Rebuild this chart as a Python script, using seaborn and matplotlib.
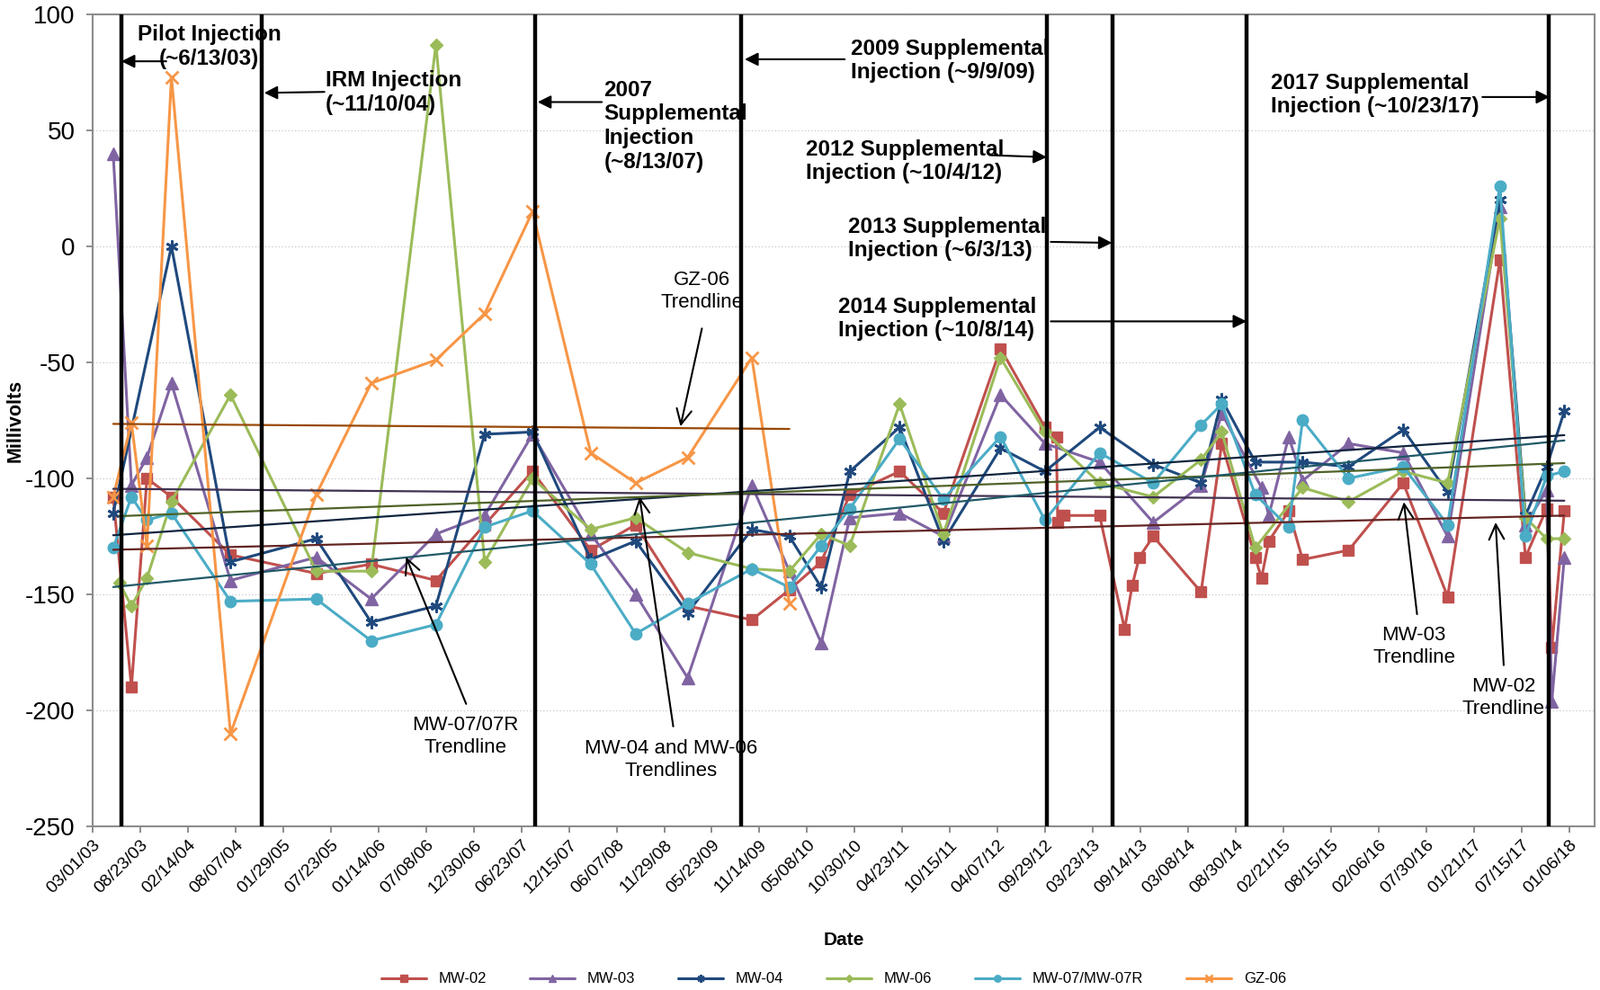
import numpy as np
import pandas as pd
import seaborn as sns
import matplotlib.pyplot as plt
import matplotlib.dates as mdates

# ---- data (millivolts) ----
mw02_dates = ["2003-05-15", "2003-07-21", "2003-09-16", "2003-12-15", "2004-07-19", "2005-05-30",
              "2005-12-18", "2006-08-13", "2007-02-08", "2007-08-03", "2008-03-04", "2008-08-16",
              "2009-02-23", "2009-10-17", "2010-03-04", "2010-06-29", "2010-10-12", "2011-04-13",
              "2011-09-21", "2012-04-18", "2012-09-28", "2012-11-09", "2012-11-14", "2012-12-07",
              "2013-04-17", "2013-07-18", "2013-08-15", "2013-09-10", "2013-10-31", "2014-04-25",
              "2014-07-10", "2014-11-10", "2014-12-03", "2014-12-30", "2015-03-13", "2015-05-03",
              "2015-10-19", "2016-05-07", "2016-10-17", "2017-04-27", "2017-07-30", "2017-10-16",
              "2017-11-04", "2017-12-20"]
mw02_mv = [-108, -190, -100, -108, -133, -141, -137, -144, -120, -97, -131, -120, -155, -161, -148,
           -136, -107, -97, -115, -44, -78, -82, -119, -116, -116, -165, -146, -134, -125, -149,
           -85, -134, -143, -127, -114, -135, -131, -102, -151, -6, -134, -113, -173, -114]

mw03_dates = ["2003-05-15", "2003-07-21", "2003-09-16", "2003-12-15", "2004-07-19", "2005-05-30",
              "2005-12-18", "2006-08-13", "2007-02-08", "2007-08-03", "2008-03-04", "2008-08-16",
              "2009-02-23", "2009-10-17", "2010-03-04", "2010-06-29", "2010-10-12", "2011-04-13",
              "2011-09-21", "2012-04-18", "2012-09-28", "2013-04-17", "2013-10-31", "2014-04-25",
              "2014-07-10", "2014-12-03", "2014-12-30", "2015-03-13", "2015-05-03", "2015-10-19",
              "2016-05-07", "2016-10-17", "2017-04-27", "2017-07-30", "2017-10-16", "2017-11-04",
              "2017-12-20"]
mw03_mv = [40, -103, -91, -59, -144, -134, -152, -124, -116, -81, -124, -150, -186, -103, -140,
           -171, -117, -115, -125, -64, -85, -93, -119, -103, -72, -104, -116, -82, -101, -85,
           -89, -125, 17, -120, -105, -196, -134]

mw04_dates = ["2003-05-15", "2003-12-15", "2004-07-19", "2005-05-30", "2005-12-18", "2006-08-13",
              "2007-02-08", "2007-08-03", "2008-03-04", "2008-08-16", "2009-02-23", "2009-10-17",
              "2010-03-04", "2010-06-29", "2010-10-12", "2011-04-13", "2011-09-21", "2012-04-18",
              "2012-09-28", "2013-04-17", "2013-10-31", "2014-04-25", "2014-07-10", "2014-11-10",
              "2015-05-03", "2015-10-19", "2016-05-07", "2016-10-17", "2017-04-27", "2017-07-30",
              "2017-10-16", "2017-12-20"]
mw04_mv = [-115, 0, -136, -126, -162, -155, -81, -80, -135, -127, -158, -122, -125, -147, -97,
           -78, -127, -87, -97, -78, -94, -102, -66, -93, -93, -95, -79, -106, 20, -116, -95, -71]

mw06_dates = ["2003-06-06", "2003-07-21", "2003-09-16", "2003-12-15", "2004-07-19", "2005-05-30",
              "2005-12-18", "2006-08-13", "2007-02-08", "2007-08-03", "2008-03-04", "2008-08-16",
              "2009-02-23", "2009-10-17", "2010-03-04", "2010-06-29", "2010-10-12", "2011-04-13",
              "2011-09-21", "2012-04-18", "2012-09-28", "2013-04-17", "2013-10-31", "2014-04-25",
              "2014-07-10", "2014-11-10", "2015-05-03", "2015-10-19", "2016-05-07", "2016-10-17",
              "2017-04-27", "2017-07-30", "2017-10-16", "2017-12-20"]
mw06_mv = [-145, -155, -143, -110, -64, -140, -140, 87, -136, -100, -122, -117, -132, -139, -140,
           -124, -129, -68, -124, -48, -80, -102, -108, -92, -80, -130, -104, -110, -97, -102,
           12, -117, -126, -126]

mw07_dates = ["2003-05-15", "2003-07-21", "2003-09-16", "2003-12-15", "2004-07-19", "2005-05-30",
              "2005-12-18", "2006-08-13", "2007-02-08", "2007-08-03", "2008-03-04", "2008-08-16",
              "2009-02-23", "2009-10-17", "2010-03-04", "2010-06-29", "2010-10-12", "2011-04-13",
              "2011-09-21", "2012-04-18", "2012-09-28", "2013-04-17", "2013-10-31", "2014-04-25",
              "2014-07-10", "2014-11-10", "2015-03-13", "2015-05-03", "2015-10-19", "2016-05-07",
              "2016-10-17", "2017-04-27", "2017-07-30", "2017-10-16", "2017-12-20"]
mw07_mv = [-130, -108, -118, -115, -153, -152, -170, -163, -121, -114, -137, -167, -154, -139,
           -147, -129, -113, -83, -109, -82, -118, -89, -102, -77, -68, -107, -121, -75, -100,
           -95, -120, 26, -125, -99, -97]

gz06_dates = ["2003-05-15", "2003-07-21", "2003-09-16", "2003-12-15", "2004-07-19", "2005-05-30",
              "2005-12-18", "2006-08-13", "2007-02-08", "2007-08-03", "2008-03-04", "2008-08-16",
              "2009-02-23", "2009-10-17", "2010-03-04"]
gz06_mv = [-108, -76, -129, 73, -210, -107, -59, -49, -29, 15, -89, -102, -91, -48, -154]

injection_dates = ["2003-06-13", "2004-11-10", "2007-08-13", "2009-09-09", "2012-10-04",
                   "2013-06-03", "2014-10-08", "2017-10-23"]

series = [
    ("MW-02", mw02_dates, mw02_mv, "#C0504D", "s", "#632523"),
    ("MW-03", mw03_dates, mw03_mv, "#8064A2", "^", "#3F3151"),
    ("MW-04", mw04_dates, mw04_mv, "#1F497D", (6, 2, 0), "#10253F"),
    ("MW-06", mw06_dates, mw06_mv, "#9BBB59", "D", "#4F6228"),
    ("MW-07/MW-07R", mw07_dates, mw07_mv, "#4BACC6", "o", "#215968"),
    ("GZ-06", gz06_dates, gz06_mv, "#F79646", "x", "#984807"),
]

sns.set_theme(style="white")
plt.rcParams["font.family"] = ["Liberation Sans", "DejaVu Sans"]
plt.rcParams["axes.unicode_minus"] = False
plt.rcParams["text.color"] = "black"
plt.rcParams["axes.labelcolor"] = "black"
plt.rcParams["xtick.color"] = "black"
plt.rcParams["ytick.color"] = "black"

fig, ax = plt.subplots(figsize=(17.79, 11.01), dpi=100)
fig.subplots_adjust(left=0.058, right=0.9966, top=0.9855, bottom=0.1653)

for name, dates, mv, color, marker, tcolor in series:
    df = pd.DataFrame({"num": mdates.date2num(pd.to_datetime(dates)), "mv": mv})
    msize = 9 if marker in ("s", "o") else 10
    if marker == "D":
        msize = 7.5
    is_line_marker = marker == "x" or isinstance(marker, tuple)
    sns.lineplot(data=df, x="num", y="mv", ax=ax, color=color, marker=marker,
                 markersize=msize, linewidth=2.2, estimator=None, sort=False, label=name,
                 markeredgecolor=color, markeredgewidth=2 if is_line_marker else 1)

# linear trendlines for each well
for name, dates, mv, color, marker, tcolor in series:
    df = pd.DataFrame({"num": mdates.date2num(pd.to_datetime(dates)), "mv": mv})
    sns.regplot(data=df, x="num", y="mv", ax=ax, scatter=False, ci=None, truncate=True,
                color=tcolor, line_kws={"linewidth": 1.6, "zorder": 4})

for d in injection_dates:
    ax.axvline(mdates.date2num(pd.Timestamp(d)), color="black", linewidth=3.2, zorder=5)

start = mdates.date2num(pd.Timestamp("2003-03-01"))
ax.set_xlim(start, mdates.date2num(pd.Timestamp("2018-04-10")))
ax.set_xticks([start + 175 * k for k in range(32)])
ax.xaxis.set_major_formatter(mdates.DateFormatter("%m/%d/%y"))
ax.set_ylim(-250, 100)
ax.set_yticks(range(-250, 101, 50))
ax.yaxis.grid(True, color="#d0d0d0", linestyle=":", linewidth=1)
ax.tick_params(axis="x", labelsize=14, length=5, direction="out", bottom=True, color="#808080")
ax.tick_params(axis="y", labelsize=20, length=5, direction="out", left=True, color="#808080",
               pad=9)
plt.setp(ax.get_xticklabels(), rotation=45, ha="right", rotation_mode="anchor")
for s in ax.spines.values():
    s.set_color("#8c8c8c")
    s.set_linewidth(1.5)
ax.set_xlabel("Date", fontsize=15, fontweight="bold", labelpad=28)
ax.set_ylabel("Millivolts", fontsize=15.5, fontweight="bold", labelpad=0)

# injection annotations
bold = dict(fontsize=17.5, fontweight="bold", transform=ax.transAxes, va="center", zorder=3,
            linespacing=1.2)
ax.text(0.0774, 0.9604, "Pilot Injection\n(~6/13/03)", ha="center", multialignment="center", **bold)
ax.text(0.1549, 0.9039, "IRM Injection\n(~11/10/04)", ha="left", **bold)
ax.text(0.3404, 0.8624, "2007\nSupplemental\nInjection\n(~8/13/07)", ha="left", **bold)
ax.text(0.5048, 0.9428, "2009 Supplemental\nInjection (~9/9/09)", ha="left", **bold)
ax.text(0.4749, 0.8191, "2012 Supplemental\nInjection (~10/4/12)", ha="left", **bold)
ax.text(0.5027, 0.7236, "2013 Supplemental\nInjection (~6/3/13)", ha="left", **bold)
ax.text(0.4966, 0.6250, "2014 Supplemental\nInjection (~10/8/14)", ha="left", **bold)
ax.text(0.7846, 0.9008, "2017 Supplemental\nInjection (~10/23/17)", ha="left", **bold)

solid_arrows = [
    ((0.0489, 0.9422), (0.0190, 0.9422)),
    ((0.1542, 0.9045), (0.1141, 0.9033)),
    ((0.3390, 0.8920), (0.2962, 0.8920)),
    ((0.5007, 0.9447), (0.4341, 0.9447)),
    ((0.5971, 0.8266), (0.6352, 0.8241)),
    ((0.6379, 0.7198), (0.6787, 0.7186)),
    ((0.6379, 0.6219), (0.7683, 0.6219)),
    ((0.9253, 0.8982), (0.9701, 0.8982)),
]
for tail, head in solid_arrows:
    ax.annotate("", xy=head, xytext=tail, xycoords="axes fraction", textcoords="axes fraction",
                arrowprops=dict(arrowstyle="-|>", color="black", lw=1.5, mutation_scale=22,
                                shrinkA=0, shrinkB=0), zorder=6)

# trendline labels
thin = dict(fontsize=16, transform=ax.transAxes, ha="center", va="center",
            multialignment="center", family=["Liberation Sans Narrow", "Liberation Sans"],
            linespacing=1.25, zorder=3)
ax.text(0.4056, 0.6590, "GZ-06\nTrendline", **thin)
ax.text(0.2480, 0.1112, "MW-07/07R\nTrendline", **thin)
ax.text(0.3852, 0.0823, "MW-04 and MW-06\nTrendlines", **thin)
ax.text(0.8798, 0.2211, "MW-03\nTrendline", **thin)
ax.text(0.9395, 0.1583, "MW-02\nTrendline", **thin)

open_arrows = [
    ((0.4056, 0.6131), (0.3913, 0.4925)),
    ((0.2486, 0.1508), (0.2086, 0.3317)),
    ((0.3865, 0.1231), (0.3641, 0.4058)),
    ((0.8818, 0.2613), (0.8730, 0.3995)),
    ((0.9395, 0.1985), (0.9341, 0.3744)),
]
for tail, head in open_arrows:
    ax.annotate("", xy=head, xytext=tail, xycoords="axes fraction", textcoords="axes fraction",
                arrowprops=dict(arrowstyle="->", color="black", lw=1.5, mutation_scale=30,
                                shrinkA=0, shrinkB=0), zorder=6)

handles, labels = ax.get_legend_handles_labels()
if ax.get_legend() is not None:
    ax.get_legend().remove()
fig.legend(handles[:6], labels[:6], loc="center", bbox_to_anchor=(0.521, 0.011), ncol=6,
           frameon=False, fontsize=12, handlelength=3, columnspacing=2.9, markerscale=0.6)

fig.savefig("out.png", dpi=100)
